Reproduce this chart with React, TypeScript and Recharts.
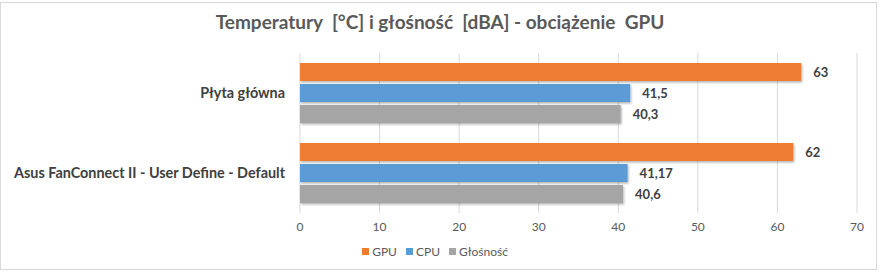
import React from "react";
import { BarChart, Bar, XAxis, YAxis, CartesianGrid, LabelList } from "recharts";

const categories = ["Płyta główna", "Asus FanConnect II - User Define - Default"];
const gpu = [63, 62];
const cpu = [41.5, 41.17];
const noise = [40.3, 40.6];
const xTicks = [0, 10, 20, 30, 40, 50, 60, 70];

const series = [
  { key: "gpu", name: "GPU", color: "#ED7D31" },
  { key: "cpu", name: "CPU", color: "#5B9BD5" },
  { key: "noise", name: "Głośność", color: "#A5A5A5" },
];
const FONT = "Lato, 'Open Sans', sans-serif";

const data = categories.map((name, i) => ({
  name,
  gpu: gpu[i],
  cpu: cpu[i],
  noise: noise[i],
}));

const fmt = (v: any) => String(v).replace(".", ",");

const ShadowBar = (props: any) => {
  const { x, y, width, height, fill } = props;
  if (width == null || width <= 0) return null;
  return <rect x={x} y={y} width={width} height={height} fill={fill} filter="url(#barShadow)" />;
};

export default function App() {
  return (
    <div
      style={{
        position: "absolute",
        left: 0,
        top: 0,
        width: 880,
        height: 273,
        background: "#fff",
        fontFamily: FONT,
      }}
    >
      <div
        style={{
          position: "absolute",
          left: 0,
          top: 2,
          width: 877,
          height: 268,
          border: "1px solid #d9d9d9",
          boxSizing: "border-box",
        }}
      />
      <div
        style={{
          position: "absolute",
          top: 10,
          left: 0,
          width: 880,
          textAlign: "center",
          fontSize: 19,
          fontWeight: 700,
          color: "#595959",
          whiteSpace: "pre",
        }}
      >
        {"Temperatury  [°C] i głośność  [dBA] - obciążenie  GPU"}
      </div>
      <BarChart
        width={880}
        height={273}
        data={data}
        layout="vertical"
        margin={{ top: 53, right: 23, left: 0, bottom: 30 }}
        barCategoryGap={20}
        barGap={3}
        style={{ position: "absolute", left: 0, top: 0 }}
      >
        <defs>
          <filter id="barShadow" x="-5%" y="-20%" width="110%" height="150%">
            <feDropShadow dx="1" dy="1.5" stdDeviation="1" floodColor="#000" floodOpacity="0.3" />
          </filter>
        </defs>
        <CartesianGrid horizontal={false} stroke="#d9d9d9" />
        <XAxis
          type="number"
          domain={[0, 70]}
          ticks={xTicks}
          axisLine={false}
          tickLine={false}
          tickMargin={3}
          tick={{ fontSize: 12, fill: "#595959", fontFamily: FONT }}
          height={30}
        />
        <YAxis
          type="category"
          dataKey="name"
          width={300}
          axisLine={false}
          tickLine={false}
          tickMargin={9}
          tick={{ fontSize: 14.4, fill: "#404040", fontWeight: 700, fontFamily: FONT }}
        />
        {series.map((s) => (
          <Bar key={s.key} dataKey={s.key} name={s.name} fill={s.color} barSize={18} isAnimationActive={false} shape={ShadowBar}>
            <LabelList
              dataKey={s.key}
              position="right"
              offset={12}
              formatter={fmt}
              style={{ fontSize: 13, fontWeight: 700, fill: "#404040", fontFamily: FONT }}
            />
          </Bar>
        ))}
      </BarChart>
      <div
        style={{
          position: "absolute",
          top: 244,
          left: 0,
          width: 870,
          display: "flex",
          justifyContent: "center",
          gap: 9,
          fontSize: 12,
          color: "#595959",
        }}
      >
        {series.map((s) => (
          <span key={s.key} style={{ display: "flex", alignItems: "center", gap: 3 }}>
            <span style={{ width: 7, height: 7, background: s.color, display: "inline-block" }} />
            {s.name}
          </span>
        ))}
      </div>
    </div>
  );
}
